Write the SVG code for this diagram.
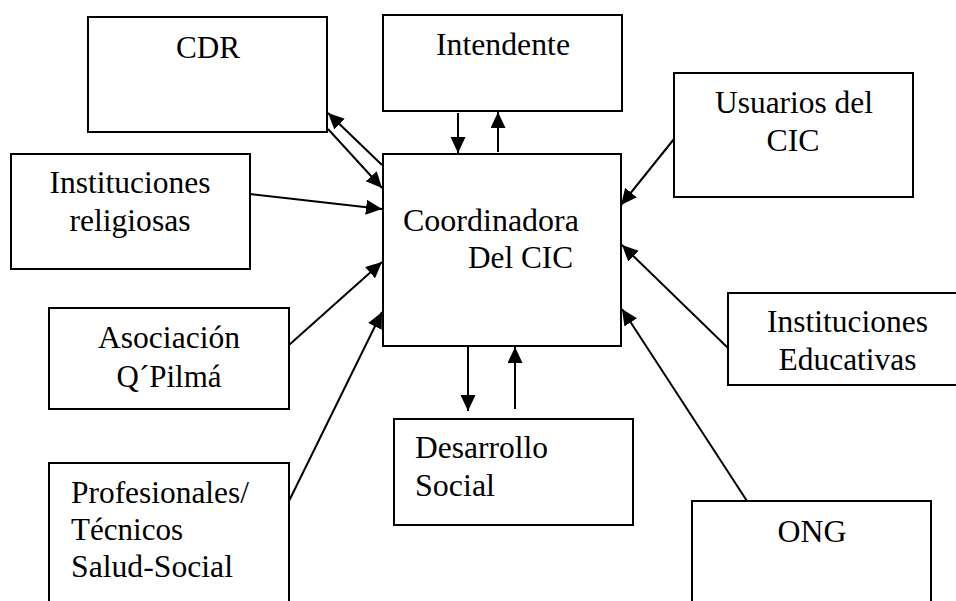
<svg xmlns="http://www.w3.org/2000/svg" width="956" height="601" viewBox="0 0 956 601">
<style>
.box{fill:#fff;stroke:#000;stroke-width:2}
text{font-family:"Liberation Serif","Times New Roman",serif;font-size:31.5px;fill:#000}
.m{text-anchor:middle}
.c{stroke:#000;stroke-width:2;fill:none;marker-end:url(#ah)}
</style>
<defs>
<marker id="ah" markerUnits="userSpaceOnUse" markerWidth="20" markerHeight="18" refX="16" refY="7.5" orient="auto">
<path d="M0,0 L16,7.5 L0,15 z" fill="#000"/>
</marker>
</defs>
<rect width="956" height="601" fill="#fff"/>
<g id="cdr"><rect class="box" x="88" y="17" width="239" height="115"/><text class="m" x="208" y="58" textLength="64" lengthAdjust="spacingAndGlyphs">CDR</text></g>
<g id="intendente"><rect class="box" x="383" y="15" width="239" height="96"/><text class="m" x="503" y="55" textLength="134" lengthAdjust="spacingAndGlyphs">Intendente</text></g>
<g id="usuarios"><rect class="box" x="674" y="73" width="239" height="124"/><text class="m" x="794" y="113" textLength="158" lengthAdjust="spacingAndGlyphs">Usuarios del</text><text class="m" x="793" y="151" textLength="53" lengthAdjust="spacingAndGlyphs">CIC</text></g>
<g id="religiosas"><rect class="box" x="11" y="154" width="239" height="115"/><text class="m" x="130" y="193" textLength="161" lengthAdjust="spacingAndGlyphs">Instituciones</text><text class="m" x="130" y="231" textLength="121" lengthAdjust="spacingAndGlyphs">religiosas</text></g>
<g id="coordinadora"><rect class="box" x="383" y="154" width="238" height="192"/><text x="403" y="231" textLength="176" lengthAdjust="spacingAndGlyphs">Coordinadora</text><text x="468" y="268" textLength="105" lengthAdjust="spacingAndGlyphs">Del CIC</text></g>
<g id="asociacion"><rect class="box" x="49" y="308" width="240" height="101"/><text class="m" x="169" y="348" textLength="142" lengthAdjust="spacingAndGlyphs">Asociación</text><text class="m" x="169" y="387" textLength="105" lengthAdjust="spacingAndGlyphs">Q´Pilmá</text></g>
<g id="educativas"><rect class="box" x="728" y="293" width="240" height="92"/><text class="m" x="847.5" y="332" textLength="161" lengthAdjust="spacingAndGlyphs">Instituciones</text><text class="m" x="847.5" y="370" textLength="138" lengthAdjust="spacingAndGlyphs">Educativas</text></g>
<g id="desarrollo"><rect class="box" x="394" y="419" width="239" height="106"/><text x="415" y="458" textLength="133" lengthAdjust="spacingAndGlyphs">Desarrollo</text><text x="415" y="496" textLength="80" lengthAdjust="spacingAndGlyphs">Social</text></g>
<g id="profesionales"><rect class="box" x="49" y="463" width="240" height="150"/><text x="71" y="503" textLength="178" lengthAdjust="spacingAndGlyphs">Profesionales/</text><text x="71" y="540" textLength="112" lengthAdjust="spacingAndGlyphs">Técnicos</text><text x="71" y="577" textLength="162" lengthAdjust="spacingAndGlyphs">Salud-Social</text></g>
<g id="ong"><rect class="box" x="692" y="501" width="239" height="112"/><text class="m" x="812" y="542" textLength="69" lengthAdjust="spacingAndGlyphs">ONG</text></g>
<g id="connectors">
<line class="c" x1="382" y1="165" x2="328" y2="113"/>
<line class="c" x1="328" y1="129" x2="382" y2="188"/>
<line class="c" x1="250" y1="194" x2="382" y2="209"/>
<line class="c" x1="289" y1="345" x2="382" y2="262"/>
<line class="c" x1="289" y1="501" x2="382" y2="312"/>
<line class="c" x1="458" y1="113" x2="458" y2="153"/>
<line class="c" x1="498" y1="152" x2="498" y2="112"/>
<line class="c" x1="674" y1="139" x2="621" y2="205"/>
<line class="c" x1="728" y1="348" x2="622" y2="245"/>
<line class="c" x1="747" y1="501" x2="622" y2="309"/>
<line class="c" x1="468" y1="347" x2="468" y2="411"/>
<line class="c" x1="515" y1="409" x2="515" y2="347"/>
</g>
</svg>
